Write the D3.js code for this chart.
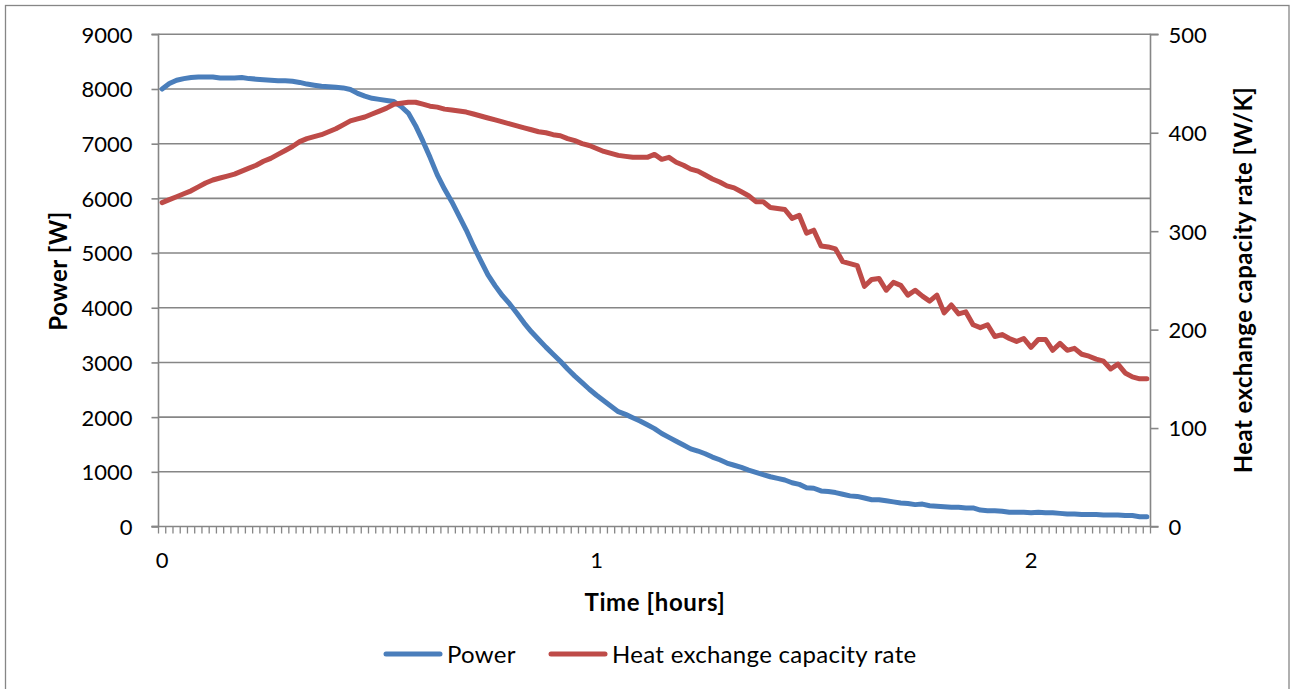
<!DOCTYPE html>
<html>
<head>
<meta charset="utf-8">
<script src="https://cdn.jsdelivr.net/npm/d3@7"></script>
<style>
  html, body { margin: 0; padding: 0; background: #fff; }
  svg { display: block; font-family: Lato, "Open Sans", sans-serif; }
</style>
</head>
<body>
<svg id="chart" width="1290" height="689"></svg>
<script>
// ---- data (one value per minute) ----
const power = [8000,8100,8160,8190,8210,8220,8220,8220,8200,8200,
  8200,8210,8190,8180,8170,8160,8150,8150,8140,8120,
  8090,8070,8050,8040,8030,8020,7990,7920,7870,7830,
  7810,7790,7770,7680,7560,7330,7050,6750,6430,6170,
  5940,5680,5420,5130,4860,4600,4400,4220,4070,3900,
  3720,3560,3420,3280,3150,3020,2880,2750,2630,2510,
  2400,2300,2200,2100,2050,1990,1930,1860,1790,1700,
  1630,1560,1490,1420,1380,1330,1270,1220,1160,1120,
  1080,1030,990,950,910,880,850,800,770,710,
  700,650,640,620,590,560,550,520,490,490,
  470,450,430,420,400,410,380,370,360,350,
  350,340,340,300,290,290,280,260,260,260,
  250,260,250,250,240,230,230,220,220,220,
  210,210,210,200,200,180,180];
const heatRate = [329,332,335,338,341,345,349,352,354,356,
  358,361,364,367,371,374,378,382,386,391,
  394,396,398,401,404,408,412,414,416,419,
  422,425,429,430,431,431,429,427,426,424,
  423,422,421,419,417,415,413,411,409,407,
  405,403,401,400,398,397,394,392,389,387,
  384,381,379,377,376,375,375,375,378,373,
  375,370,367,363,361,357,353,350,346,344,
  340,336,330,330,324,323,322,313,316,298,
  301,285,284,282,269,267,265,244,251,252,
  240,248,245,235,240,234,229,235,217,225,
  216,218,205,202,205,193,195,191,188,191,
  182,190,190,179,186,179,181,175,173,170,
  168,160,165,156,152,150,150];
const minutes = d3.range(power.length);          // category index (minutes)
const xTickLabels = [{i: 0, t: "0"}, {i: 60, t: "1"}, {i: 120, t: "2"}];
const leftTicks = [0,1000,2000,3000,4000,5000,6000,7000,8000,9000];
const rightTicks = [0,100,200,300,400,500];
const seriesNames = ["Power", "Heat exchange capacity rate"];
const colors = ["#4A7EBB", "#BE4B48"];

// ---- layout ----
const L = 158.5, R = 1150.5, T = 34.3, B = 526.5;
const gridColor = "#868686";
const fs = 22;       // tick labels
const fsText = 24;   // titles / legend

const svg = d3.select("#chart");

// chart border
svg.append("rect").attr("x", 5.5).attr("y", 5.5).attr("width", 1283.5).attr("height", 720)
  .attr("fill", "none").attr("stroke", gridColor).attr("stroke-width", 1.3);

const x = d3.scaleBand().domain(minutes).range([L, R]).paddingInner(0).paddingOuter(0);
const cx = i => x(i) + x.bandwidth() / 2;
const yL = d3.scaleLinear().domain([0, 9000]).range([B, T]);
const yR = d3.scaleLinear().domain([0, 500]).range([B, T]);

// gridlines
svg.append("g").selectAll("line").data(leftTicks.filter(d => d > 0)).join("line")
  .attr("x1", L).attr("x2", R).attr("y1", d => yL(d)).attr("y2", d => yL(d))
  .attr("stroke", gridColor).attr("stroke-width", 1.6);

// left axis
const gl = svg.append("g").attr("transform", `translate(${L},0)`)
  .call(d3.axisLeft(yL).tickValues(leftTicks).tickSize(7).tickPadding(19).tickFormat(d3.format("d")));
gl.select(".domain").attr("stroke", gridColor).attr("stroke-width", 1.6).attr("d", `M-7,${T}H0V${B}H-7`);
gl.selectAll(".tick line").attr("stroke", gridColor).attr("stroke-width", 1.6);
gl.selectAll(".tick text").attr("font-size", fs).attr("font-family", "Lato").attr("fill", "#000").attr("dy", "0.36em");

// right axis
const gr = svg.append("g").attr("transform", `translate(${R},0)`)
  .call(d3.axisRight(yR).tickValues(rightTicks).tickSize(8).tickPadding(10).tickFormat(d3.format("d")));
gr.select(".domain").attr("stroke", gridColor).attr("stroke-width", 1.6).attr("d", `M8,${T}H0V${B}H8`);
gr.selectAll(".tick line").attr("stroke", gridColor).attr("stroke-width", 1.6);
gr.selectAll(".tick text").attr("font-size", fs).attr("font-family", "Lato").attr("fill", "#000").attr("dy", "0.36em");

// bottom axis: tick marks at category boundaries
const boundaries = minutes.map(i => x(i)).concat([R]);
const gb = svg.append("g");
gb.selectAll("line.minor").data(boundaries).join("line").attr("class", "minor")
  .attr("x1", d => d).attr("x2", d => d).attr("y1", B).attr("y2", B + 7)
  .attr("stroke", gridColor).attr("stroke-width", 1.3);
gb.append("line").attr("x1", L - 7).attr("x2", R).attr("y1", B).attr("y2", B)
  .attr("stroke", gridColor).attr("stroke-width", 1.6);
gb.selectAll("text").data(xTickLabels).join("text")
  .attr("x", d => cx(d.i)).attr("y", 568).attr("text-anchor", "middle")
  .attr("font-size", fs).text(d => d.t);

// lines
const series = [
  {vals: power, y: yL, color: colors[0]},
  {vals: heatRate, y: yR, color: colors[1]}
];
series.forEach(s => {
  const line = d3.line().x((d, i) => cx(i)).y(d => s.y(d));
  svg.append("path").datum(s.vals).attr("d", line)
    .attr("fill", "none").attr("stroke", s.color).attr("stroke-width", 5)
    .attr("stroke-linejoin", "round").attr("stroke-linecap", "round");
});

// axis titles
svg.append("text").attr("transform", "translate(58,271) rotate(-90)")
  .attr("text-anchor", "middle").attr("dy", "0.36em").attr("letter-spacing", 0.6)
  .attr("font-size", fsText).attr("font-weight", "bold").text("Power [W]");
svg.append("text").attr("transform", "translate(1243,280) rotate(-90)")
  .attr("text-anchor", "middle").attr("dy", "0.36em").attr("letter-spacing", 0.4)
  .attr("font-size", fsText).attr("font-weight", "bold").text("Heat exchange capacity rate [W/K]");
svg.append("text").attr("x", 655).attr("y", 611).attr("text-anchor", "middle").attr("letter-spacing", 0.6)
  .attr("font-size", fsText).attr("font-weight", "bold").text("Time [hours]");

// legend
const legendX = [386, 551];
const lg = svg.append("g");
seriesNames.forEach((name, k) => {
  lg.append("line").attr("x1", legendX[k]).attr("x2", legendX[k] + 54).attr("y1", 654).attr("y2", 654)
    .attr("stroke", colors[k]).attr("stroke-width", 5).attr("stroke-linecap", "round");
  lg.append("text").attr("x", legendX[k] + 61).attr("y", 654).attr("dy", "0.36em").attr("letter-spacing", 0.3)
    .attr("font-size", fsText).text(name);
});
</script>
</body>
</html>
